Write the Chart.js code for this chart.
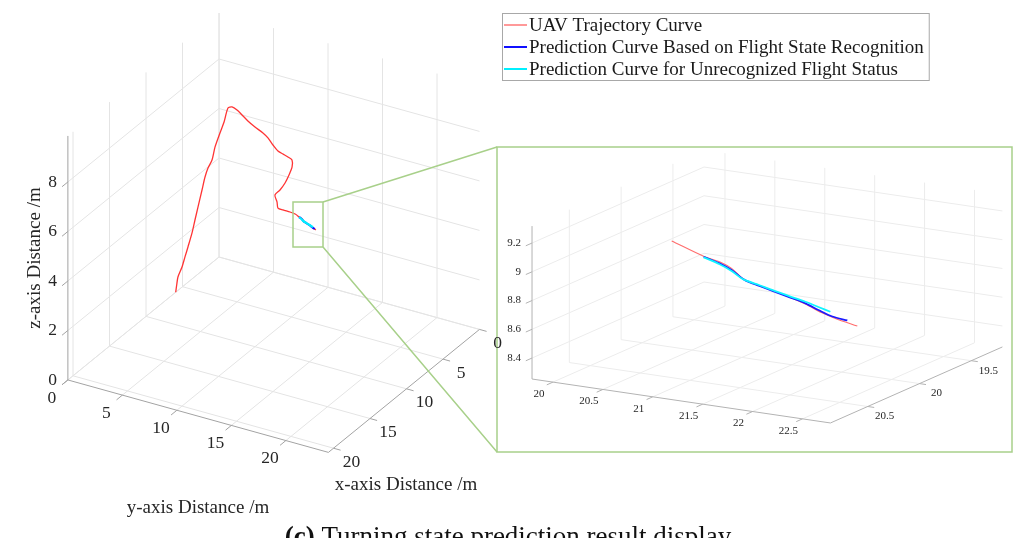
<!DOCTYPE html>
<html>
<head>
<meta charset="utf-8">
<script src="https://cdn.jsdelivr.net/npm/chart.js@4.4.1/dist/chart.umd.min.js"></script>
<style>
html, body { margin: 0; padding: 0; background: #fff; overflow: hidden; }
canvas { display: block; }
</style>
</head>
<body>
<canvas id="chart" width="1035" height="538"></canvas>
<script>
// UAV trajectory, metres
var trajX = [5.93, 6.17, 6.49, 6.77, 7.08, 7.43, 7.89, 8.34, 8.80, 9.39, 9.86, 10.15, 10.35, 10.80, 11.23, 11.58,
	11.61, 11.31, 11.46, 11.84, 12.33, 12.78, 13.18, 13.57, 14.22, 14.74, 14.88, 15.01, 15.19, 15.97, 16.96, 17.98,
	18.91, 19.62, 20.21, 20.68, 20.59, 20.45, 20.35, 20.35, 20.35, 20.35, 20.35, 20.35, 20.35, 20.35, 20.35, 20.35,
	20.35, 20.35];
var trajY = [0.00, 0.25, 0.58, 1.14, 1.62, 2.13, 2.81, 3.38, 3.97, 4.73, 5.32, 5.79, 6.29, 6.87, 7.61, 8.22,
	8.60, 8.77, 9.33, 10.04, 10.91, 11.86, 12.86, 13.58, 14.47, 15.28, 15.83, 16.38, 16.87, 17.40, 17.78, 18.10,
	18.26, 18.27, 18.86, 19.26, 19.66, 20.21, 20.66, 20.98, 21.16, 21.26, 21.38, 21.49, 21.66, 21.83, 22.00, 22.16,
	22.30, 22.52];
var trajZ = [0.00, 0.38, 0.82, 1.36, 1.90, 2.45, 3.21, 3.91, 4.62, 5.54, 6.25, 6.74, 7.17, 7.88, 8.64, 9.24,
	9.86, 9.85, 9.83, 9.81, 9.79, 9.77, 9.75, 9.73, 9.71, 9.69, 9.67, 9.65, 9.63, 9.60, 9.56, 9.52,
	9.48, 9.45, 9.38, 9.30, 9.25, 9.20, 9.141, 9.067, 9.041, 9.012, 8.948, 8.927, 8.902, 8.873, 8.839, 8.796,
	8.770, 8.739];
var zoomFrom = 38; // first trajectory sample shown in the enlarged view

// prediction based on flight state recognition
var recX = [20.35, 20.35, 20.35, 20.35, 20.35, 20.35, 20.35, 20.35, 20.35, 20.35, 20.35];
var recY = [20.98, 21.14, 21.26, 21.39, 21.54, 21.69, 21.85, 22.00, 22.13, 22.27, 22.42];
var recZ = [9.064, 9.035, 9.001, 8.945, 8.918, 8.894, 8.869, 8.844, 8.811, 8.780, 8.768];

// prediction without flight state recognition
var unrecX = [20.35, 20.35, 20.35, 20.35, 20.35, 20.35, 20.35, 20.35, 20.35, 20.35];
var unrecY = [20.98, 21.14, 21.26, 21.37, 21.54, 21.69, 21.85, 22.00, 22.13, 22.25];
var unrecZ = [9.060, 9.028, 8.994, 8.950, 8.923, 8.899, 8.876, 8.855, 8.832, 8.811];

var mainXTicks = [0, 5, 10, 15, 20];
var mainYTicks = [0, 5, 10, 15, 20];
var mainZTicks = [0, 2, 4, 6, 8];
var zoomXTicks = [19.5, 20, 20.5];
var zoomYTicks = [20, 20.5, 21, 21.5, 22, 22.5];
var zoomZTicks = [8.4, 8.6, 8.8, 9, 9.2];

var seriesNames = ['UAV Trajectory Curve', 'Prediction Curve Based on Flight State Recognition',
	'Prediction Curve for Unrecognized Flight Status'];

// the two 3D views: axis limits, page position of the (min,min,min) corner and
// the on-page step for one unit along x, y and z
var views = {
	main: { lim: { x: [0, 20.7], y: [0, 23.9], z: [0, 9.86] }, org: [219, 257],
		ex: [-7.3, 5.94], ey: [10.9, 3.03], ez: -24.75, tick: { x: 0.8, y: 0.65 } },
	zoom: { lim: { x: [19.2, 20.86], y: [19.79, 22.78], z: [8.254, 9.318] }, org: [704, 303],
		ex: [-103.6, 45.8], ey: [99.8, 14.7], ez: -143.75, tick: { x: 0.06, y: 0.065 } }
};

var zoomBox = { l: 293, t: 202, r: 323, b: 247 };
var zoomFrame = { l: 497, t: 147, r: 1012, b: 452 };
var green = '#a8d08a';
var serif = '"Liberation Serif", "Times New Roman", serif';

function proj(v, x, y, z) {
	var dx = x - v.lim.x[0], dy = y - v.lim.y[0], dz = z - v.lim.z[0];
	return {
		x: v.org[0] + dx * v.ex[0] + dy * v.ey[0],
		y: v.org[1] + dx * v.ex[1] + dy * v.ey[1] + dz * v.ez
	};
}

function curve(v, xs, ys, zs, from) {
	var pts = [];
	for (var i = from || 0; i < xs.length; i++) {
		pts.push(proj(v, xs[i], ys[i], zs[i]));
	}
	return pts;
}

function lineSet(pts, color, width, order, tension) {
	return {
		data: pts, showLine: true, fill: false, pointRadius: 0, pointHoverRadius: 0,
		borderColor: color, borderWidth: width, tension: tension || 0, order: order
	};
}

function gridSets(v, xt, yt, zt, color) {
	var L = v.lim, out = [];
	function seg(a, b) {
		out.push(lineSet([proj(v, a[0], a[1], a[2]), proj(v, b[0], b[1], b[2])], color, 1, 20));
	}
	xt.forEach(function (t) {
		seg([t, L.y[0], L.z[0]], [t, L.y[1], L.z[0]]);
		seg([t, L.y[0], L.z[0]], [t, L.y[0], L.z[1]]);
	});
	yt.forEach(function (t) {
		seg([L.x[0], t, L.z[0]], [L.x[1], t, L.z[0]]);
		seg([L.x[0], t, L.z[0]], [L.x[0], t, L.z[1]]);
	});
	zt.forEach(function (t) {
		seg([L.x[0], L.y[0], t], [L.x[0], L.y[1], t]);
		seg([L.x[0], L.y[0], t], [L.x[1], L.y[0], t]);
	});
	return out;
}

function axisSets(v, xt, yt, zt, color) {
	var L = v.lim, out = [];
	function seg(a, b) {
		out.push(lineSet([proj(v, a[0], a[1], a[2]), proj(v, b[0], b[1], b[2])], color, 1, 15));
	}
	seg([L.x[1], L.y[0], L.z[0]], [L.x[1], L.y[0], L.z[1]]);
	seg([L.x[1], L.y[0], L.z[0]], [L.x[1], L.y[1], L.z[0]]);
	seg([L.x[0], L.y[1], L.z[0]], [L.x[1], L.y[1], L.z[0]]);
	yt.forEach(function (t) { seg([L.x[1], t, L.z[0]], [L.x[1] + v.tick.x, t, L.z[0]]); });
	xt.forEach(function (t) { seg([t, L.y[1], L.z[0]], [t, L.y[1] + v.tick.y, L.z[0]]); });
	zt.forEach(function (t) { seg([L.x[1], L.y[0], t], [L.x[1] + v.tick.x, L.y[0], t]); });
	return out;
}

var M = views.main, Z = views.zoom;
var datasets = []
	.concat(gridSets(M, mainXTicks, mainYTicks, mainZTicks, '#e4e4e4'))
	.concat(gridSets(Z, zoomXTicks, zoomYTicks, zoomZTicks, '#ececec'))
	.concat(axisSets(M, mainXTicks, mainYTicks, mainZTicks, '#a3a3a3'))
	.concat(axisSets(Z, zoomXTicks, zoomYTicks, zoomZTicks, '#b3b3b3'))
	.concat([
		lineSet(curve(M, trajX, trajY, trajZ), 'rgba(255,30,30,0.9)', 1.3, 5, 0.25),
		lineSet(curve(M, recX, recY, recZ), '#1010ff', 2, 4, 0.2),
		lineSet(curve(M, unrecX, unrecY, unrecZ), '#00f0ff', 2.2, 3, 0.2),
		lineSet(curve(Z, trajX, trajY, trajZ, zoomFrom), 'rgba(255,60,60,0.75)', 1.1, 5, 0.3),
		lineSet(curve(Z, recX, recY, recZ), '#1a1aff', 1.8, 4, 0.3),
		lineSet(curve(Z, unrecX, unrecY, unrecZ), '#10f4ff', 1.8, 3, 0.3)
	]);

function text(ctx, s, x, y, align, base) {
	ctx.textAlign = align;
	ctx.textBaseline = base || 'middle';
	ctx.fillText(s, x, y);
}

function tickLabels(ctx, chart, v, xt, yt, zt, size, offY, offX, zGap) {
	var sx = chart.scales.x, sy = chart.scales.y, L = v.lim;
	ctx.font = size + 'px ' + serif;
	ctx.fillStyle = '#262626';
	zt.forEach(function (t) {
		var p = proj(v, L.x[1], L.y[0], t);
		text(ctx, String(t), sx.getPixelForValue(p.x) - zGap, sy.getPixelForValue(p.y), 'right');
	});
	yt.forEach(function (t) {
		var p = proj(v, L.x[1], t, L.z[0]);
		text(ctx, String(t), sx.getPixelForValue(p.x) + offY[0], sy.getPixelForValue(p.y) + offY[1], 'center');
	});
	xt.forEach(function (t) {
		var p = proj(v, t, L.y[1], L.z[0]);
		text(ctx, String(t), sx.getPixelForValue(p.x) + offX[0], sy.getPixelForValue(p.y) + offX[1], 'center');
	});
}

var overlay = {
	id: 'overlay',
	afterDraw: function (chart) {
		var ctx = chart.ctx, sx = chart.scales.x, sy = chart.scales.y;
		function X(v) { return sx.getPixelForValue(v); }
		function Y(v) { return sy.getPixelForValue(v); }
		ctx.save();

		// zoom marker, frame and connectors
		ctx.strokeStyle = green;
		ctx.lineWidth = 1.5;
		ctx.strokeRect(X(zoomBox.l), Y(zoomBox.t), zoomBox.r - zoomBox.l, zoomBox.b - zoomBox.t);
		ctx.strokeRect(X(zoomFrame.l), Y(zoomFrame.t), zoomFrame.r - zoomFrame.l, zoomFrame.b - zoomFrame.t);
		ctx.beginPath();
		ctx.moveTo(X(zoomBox.r), Y(zoomBox.t));
		ctx.lineTo(X(zoomFrame.l), Y(zoomFrame.t));
		ctx.moveTo(X(zoomBox.r), Y(zoomBox.b));
		ctx.lineTo(X(zoomFrame.l), Y(zoomFrame.b));
		ctx.stroke();

		tickLabels(ctx, chart, M, mainXTicks, mainYTicks, mainZTicks, 17.5, [-16, 18], [18, 14], 11);
		tickLabels(ctx, chart, Z, zoomXTicks, zoomYTicks, zoomZTicks, 11, [-14, 12], [17, 10], 11);

		// axis titles
		ctx.font = '19px ' + serif;
		ctx.fillStyle = '#262626';
		text(ctx, 'y-axis Distance /m', 198, 508, 'center');
		text(ctx, 'x-axis Distance /m', 406, 485, 'center');
		ctx.save();
		ctx.translate(35, 258);
		ctx.rotate(-Math.PI / 2);
		text(ctx, 'z-axis Distance /m', 0, 0, 'center');
		ctx.restore();

		// legend
		var ds = chart.data.datasets, n = ds.length;
		var items = [ds[n - 6], ds[n - 5], ds[n - 4]];
		ctx.font = '19px ' + serif;
		var w = 0;
		seriesNames.forEach(function (s) { w = Math.max(w, ctx.measureText(s).width); });
		ctx.fillStyle = '#fff';
		ctx.fillRect(502.5, 13.5, w + 32, 67);
		ctx.strokeStyle = '#a8a8a8';
		ctx.lineWidth = 1;
		ctx.strokeRect(502.5, 13.5, w + 32, 67);
		items.forEach(function (d, i) {
			var y = 25 + i * 22;
			ctx.strokeStyle = d.borderColor;
			ctx.lineWidth = i === 0 ? 1 : 2;
			ctx.beginPath();
			ctx.moveTo(504, y);
			ctx.lineTo(527, y);
			ctx.stroke();
			ctx.fillStyle = '#1a1a1a';
			text(ctx, seriesNames[i], 529, y + 1, 'left');
		});

		// caption (cut by the bottom edge, as in the source)
		var cap1 = '(c)', cap2 = ' Turning state prediction result display';
		ctx.fillStyle = '#111';
		ctx.font = 'bold 27px ' + serif;
		var w1 = ctx.measureText(cap1).width;
		ctx.font = '27px ' + serif;
		var w2 = ctx.measureText(cap2).width;
		var x0 = 508 - (w1 + w2) / 2;
		ctx.font = 'bold 27px ' + serif;
		text(ctx, cap1, x0, 545, 'left', 'alphabetic');
		ctx.font = '27px ' + serif;
		text(ctx, cap2, x0 + w1, 545, 'left', 'alphabetic');

		ctx.restore();
	}
};

var chart = new Chart(document.getElementById('chart').getContext('2d'), {
	type: 'scatter',
	data: { datasets: datasets },
	options: {
		responsive: false,
		animation: false,
		devicePixelRatio: 1,
		layout: { padding: 0 },
		events: [],
		scales: {
			x: { type: 'linear', min: 0, max: 1035, display: false },
			y: { type: 'linear', min: 0, max: 538, reverse: true, display: false }
		},
		plugins: { legend: { display: false }, tooltip: { enabled: false } }
	},
	plugins: [overlay]
});
</script>
</body>
</html>
